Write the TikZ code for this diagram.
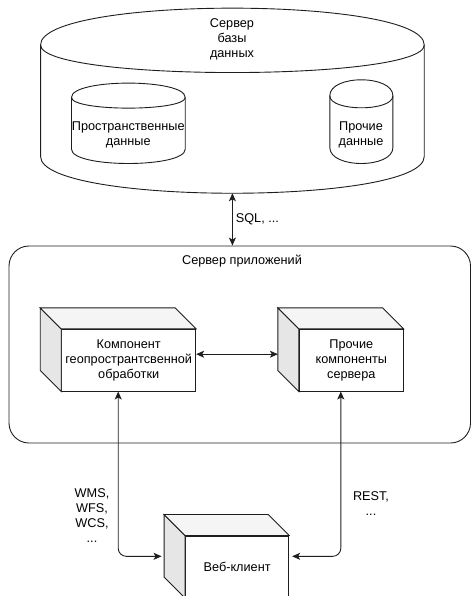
\documentclass[tikz,border=0pt]{standalone}
\usepackage{fontspec}
\setmainfont{Liberation Sans}
\usepackage{xcolor}
\definecolor{lc}{RGB}{30,30,30}
\definecolor{sideg}{RGB}{230,230,230}
\definecolor{topg}{RGB}{245,245,245}
\usepackage{tikz}
\usetikzlibrary{arrows.meta,calc}

% back faces of a draw.io style cube (node = front face)
\newcommand\cubeback[1]{%
  \filldraw[dline,fill=sideg] (#1.north west) -- ++(-21,-21) -- ($(#1.south west)+(-21,-21)$) -- (#1.south west) -- cycle;
  \filldraw[dline,fill=topg] (#1.north west) -- ++(-21,-21) -- ($(#1.north east)+(-21,-21)$) -- (#1.north east) -- cycle;
}
% cylinder drawn into the bounds of a node, #2 = cap size
\newcommand\dbcyl[2]{%
  \filldraw[dline,fill=white] let \p1=(#1.north west), \p2=(#1.south east) in
    (\x1,\y1-#2pt) .. controls (\x1,\y1+#2pt/3) and (\x2,\y1+#2pt/3) .. (\x2,\y1-#2pt)
    -- (\x2,\y2+#2pt) .. controls (\x2,\y2-#2pt/3) and (\x1,\y2-#2pt/3) .. (\x1,\y2+#2pt) -- cycle;
  \draw[dline] let \p1=(#1.north west), \p2=(#1.south east) in
    (\x1,\y1-#2pt) .. controls (\x1,\y1-2*#2pt) and (\x2,\y1-2*#2pt) .. (\x2,\y1-#2pt);
}

\begin{document}
\begin{tikzpicture}[
  x=1pt,y=-1pt,
  dline/.style={draw=lc,line width=0.9pt},
  bound/.style={rectangle,inner sep=0pt},
  txt/.style={align=center,font=\fontsize{12.7}{15}\selectfont,inner sep=1pt},
  cubebox/.style={rectangle,dline,fill=white,inner sep=0pt,align=center,font=\fontsize{12.7}{15}\selectfont,minimum height=61.7pt},
  arrow/.style={dline,{Stealth[length=8pt,width=7pt,inset=2pt]}-{Stealth[length=8pt,width=7pt,inset=2pt]}}
]
  \useasboundingbox (0,0) rectangle (471,596);

  % database server
  \node[bound,minimum width=383.3pt,minimum height=184.7pt] (dbsrv) at (232.4,100.7) {};
  \dbcyl{dbsrv}{36.8}
  \node[txt] (dbtitle) at (232,39.3) {Сервер\\базы\\данных};

  \node[bound,minimum width=113.3pt,minimum height=80pt] (spatial) at (128.35,123.3) {};
  \dbcyl{spatial}{14.3}
  \node[txt] (spatialtxt) at (128.3,134.7) {Пространственные\\данные};

  \node[bound,minimum width=62.7pt,minimum height=83.3pt] (otherdata) at (361.35,121.65) {};
  \dbcyl{otherdata}{16}
  \node[txt] (othertxt) at (361,134.7) {Прочие\\данные};

  % application server
  \node[bound,dline,rounded corners=20pt,minimum width=461.5pt,minimum height=197pt] (appsrv) at (239.75,344.5) {};
  \node[txt] (apptitle) at (242,260.7) {Сервер приложений};

  \node[cubebox,minimum width=134pt] (geo) at (128.7,360.2) {Компонент\\геопространтсвенной\\обработки};
  \cubeback{geo}
  \node[cubebox,minimum width=104pt] (othercomp) at (351.3,360.2) {Прочие\\компоненты\\сервера};
  \cubeback{othercomp}

  % client
  \node[cubebox,minimum width=103.2pt] (webclient) at (237.1,566.8) {Веб-клиент};
  \cubeback{webclient}

  \draw[arrow] (dbsrv.south) -- (dbsrv.south |- appsrv.north)
    node[midway,right,txt,xshift=2pt] (sqllbl) {SQL, ...};
  \draw[arrow] ([yshift=6pt]geo.east) -- ([xshift=-21pt,yshift=6pt]othercomp.west);
  \draw[arrow,rounded corners=8pt,shorten >=2.5pt] ([xshift=-10.5pt]geo.south) |- ([xshift=-21pt,yshift=10.5pt]webclient.west);
  \draw[arrow,rounded corners=8pt,shorten >=3pt] ([xshift=-10.5pt]othercomp.south) |- ([yshift=10.5pt]webclient.east);

  \node[txt] (wmslbl) at (92,516) {WMS,\\WFS,\\WCS,\\...};
  \node[txt] (restlbl) at (371,504) {REST,\\...};
\end{tikzpicture}
\end{document}
